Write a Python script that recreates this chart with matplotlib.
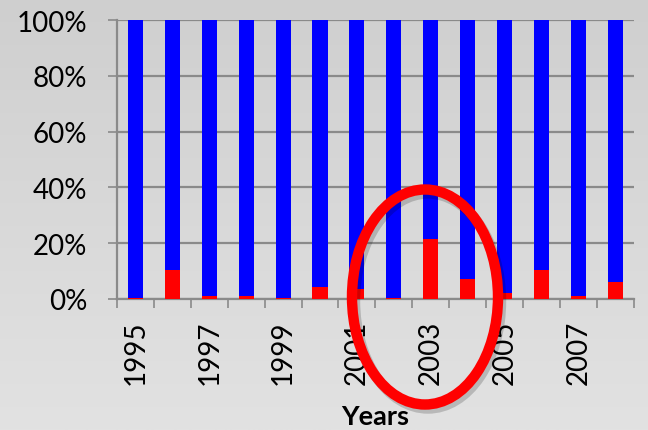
import numpy as np
import matplotlib
matplotlib.use("Agg")
import matplotlib.pyplot as plt
from matplotlib.patches import Ellipse

plt.rcParams["font.family"] = ["Lato", "DejaVu Sans"]

years = [1995, 1996, 1997, 1998, 1999, 2000, 2001,
         2002, 2003, 2004, 2005, 2006, 2007, 2008]
# share of the year in red (percent); blue fills the rest up to 100%
red_pct = [0.5, 10.4, 1.1, 1.1, 0.2, 4.2, 3.5,
           0.3, 21.6, 7.1, 2.3, 10.4, 1.0, 6.0]
blue_pct = [100 - r for r in red_pct]
ytick_vals = [0, 20, 40, 60, 80, 100]

BLUE = "#0000ff"
RED = "#ff0000"
GRID = "#8a8a8a"

fig = plt.figure(figsize=(6.48, 4.31), dpi=100)

# soft grey backdrop, slightly lighter toward the bottom
bg = fig.add_axes([0, 0, 1, 1], zorder=-10)
grad = np.linspace(0, 1, 256).reshape(-1, 1)
bg.imshow(grad, cmap=matplotlib.colors.LinearSegmentedColormap.from_list(
    "bg", ["#cfcfcf", "#e2e2e2"]), aspect="auto", extent=[0, 1, 0, 1])
bg.set_axis_off()

ax = fig.add_axes([0.1806, 0.304, 0.7974, 0.647])
ax.set_facecolor("none")

x = np.arange(len(years))
w = 0.41
ax.bar(x, red_pct, w, color=RED, zorder=3)
ax.bar(x, blue_pct, w, bottom=red_pct, color=BLUE, zorder=3)

ax.set_xlim(-0.5, len(years) - 0.5)
ax.set_ylim(0, 100)

ax.set_yticks(ytick_vals)
ax.set_yticklabels([f"{v}%" for v in ytick_vals], fontsize=20)
ax.yaxis.grid(True, color=GRID, linewidth=1.6, zorder=0)
ax.tick_params(axis="y", length=6.5, width=1.2, color=GRID, pad=15)

# tick marks on category boundaries, labels on every other year
ax.set_xticks(np.arange(-0.5, len(years), 1.0))
ax.set_xticklabels([])
ax.set_xticks(x[::2], minor=True)
ax.set_xticklabels([str(y) for y in years[::2]], minor=True,
                   rotation=90, fontsize=20)
ax.tick_params(axis="x", which="major", length=6.5, width=1.2, color=GRID)
ax.tick_params(axis="x", which="minor", length=0, pad=15)

for side in ("top", "right"):
    ax.spines[side].set_visible(False)
for side in ("left", "bottom"):
    ax.spines[side].set_color(GRID)
    ax.spines[side].set_linewidth(1.6)

fig.text(0.579, 1 - 425 / 431, "Years", ha="center", va="baseline",
         fontsize=19.5, fontweight="bold")

# highlight ring around 2003-2004
to_fig = fig.transFigure
cx, cy, ew, eh = 425 / 648, 1 - 298 / 431, 146 / 648, 215 / 431
shadow = Ellipse((cx + 3 / 648, cy - 4 / 431), ew, eh, transform=to_fig,
                 fill=False, edgecolor="#000000", alpha=0.18, linewidth=7.5,
                 zorder=9)
ring = Ellipse((cx, cy), ew, eh, transform=to_fig, fill=False,
               edgecolor=RED, linewidth=7.5, zorder=10)
fig.add_artist(shadow)
fig.add_artist(ring)

fig.savefig("out.png", dpi=100)
